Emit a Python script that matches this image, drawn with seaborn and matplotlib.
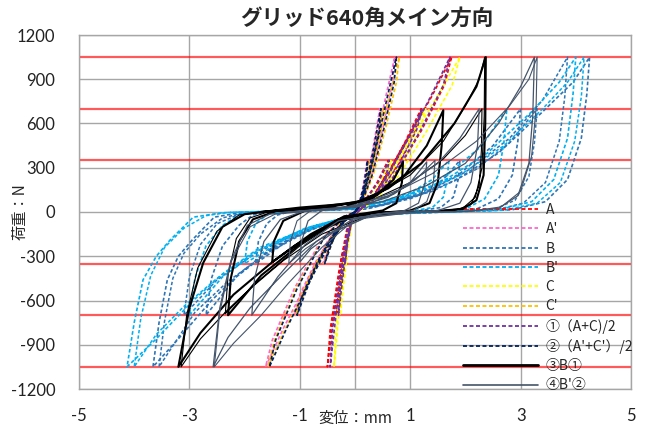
import matplotlib
matplotlib.use("Agg")
import matplotlib.pyplot as plt
import seaborn as sns
import pandas as pd
from matplotlib.lines import Line2D

# ---------------- data ----------------
series_names = ["A", "A'", "B", "B'", "C", "C'", "①（A+C)/2", "②（A'+C'）/2", "③B①", "④B'②"]

A_x = [0, 0.2, 0.4, 0.6, 0.55, 0.35, 0.1, 0, -0.08, -0.15, -0.2, -0.17, -0.1, -0.03, 0,
       0.3, 0.6, 0.9, 1.2, 1.1, 0.8, 0.4, 0.1, -0.05, -0.15, -0.25, -0.33, -0.3, -0.2, -0.08, 0,
       0.3, 0.6, 1.0, 1.4, 1.75, 1.62, 1.2, 0.7, 0.3, 0.05, -0.1, -0.25, -0.38, -0.5, -0.45, -0.3, -0.15, 0]
A_y = [0, 90, 200, 350, 250, 110, 20, 0, -70, -200, -350, -230, -90, -15, 0,
       80, 260, 470, 700, 560, 330, 130, 20, -40, -220, -470, -700, -540, -280, -70, 0,
       90, 270, 530, 790, 1050, 860, 550, 240, 70, 5, -60, -330, -680, -1050, -800, -420, -120, 0]

A2_x = [0, 0.08, 0.15, 0.22, 0.2, 0.12, 0.03, 0, -0.2, -0.4, -0.58, -0.5, -0.3, -0.1, 0,
        0.1, 0.2, 0.32, 0.45, 0.42, 0.3, 0.15, 0.03, -0.2, -0.5, -0.8, -1.1, -1.0, -0.7, -0.3, 0,
        0.1, 0.25, 0.4, 0.55, 0.72, 0.68, 0.5, 0.3, 0.12, 0, -0.2, -0.5, -0.9, -1.3, -1.62, -1.5, -1.1, -0.6, -0.2, 0]
A2_y = [0, 60, 180, 350, 240, 100, 15, 0, -60, -180, -350, -240, -110, -20, 0,
        50, 200, 420, 700, 560, 330, 120, 10, -50, -200, -420, -700, -560, -330, -90, 0,
        60, 250, 500, 770, 1050, 880, 560, 250, 60, 0, -50, -220, -500, -790, -1050, -870, -520, -180, -30, 0]

C_x = [0, 0.22, 0.45, 0.65, 0.6, 0.38, 0.12, 0, -0.06, -0.12, -0.16, -0.13, -0.08, -0.02, 0,
       0.32, 0.65, 0.95, 1.28, 1.18, 0.85, 0.45, 0.12, -0.04, -0.12, -0.2, -0.27, -0.24, -0.16, -0.06, 0,
       0.32, 0.65, 1.08, 1.5, 1.9, 1.76, 1.3, 0.78, 0.33, 0.06, -0.08, -0.19, -0.29, -0.38, -0.35, -0.24, -0.12, 0]
C_y = [0, 90, 200, 350, 250, 110, 20, 0, -70, -200, -350, -230, -90, -15, 0,
       80, 260, 470, 700, 560, 330, 130, 20, -40, -220, -470, -700, -540, -280, -70, 0,
       90, 270, 530, 790, 1050, 860, 550, 240, 70, 5, -60, -330, -680, -1050, -800, -420, -120, 0]

C2_x = [0, 0.09, 0.17, 0.25, 0.22, 0.13, 0.03, 0, -0.19, -0.38, -0.56, -0.48, -0.29, -0.1, 0,
        0.11, 0.22, 0.35, 0.5, 0.46, 0.33, 0.16, 0.03, -0.19, -0.48, -0.78, -1.07, -0.97, -0.68, -0.29, 0,
        0.11, 0.28, 0.44, 0.61, 0.8, 0.75, 0.55, 0.33, 0.13, 0, -0.19, -0.48, -0.87, -1.26, -1.58, -1.46, -1.07, -0.58, -0.19, 0]
C2_y = [0, 60, 180, 350, 240, 100, 15, 0, -60, -180, -350, -240, -110, -20, 0,
        50, 200, 420, 700, 560, 330, 120, 10, -50, -200, -420, -700, -560, -330, -90, 0,
        60, 250, 500, 770, 1050, 880, 560, 250, 60, 0, -50, -220, -500, -790, -1050, -870, -520, -180, -30, 0]

P1_x = [0, 0.21, 0.42, 0.62, 0.57, 0.36, 0.11, 0, -0.07, -0.14, -0.18, -0.15, -0.09, -0.03, 0,
        0.31, 0.62, 0.92, 1.22, 1.12, 0.81, 0.42, 0.11, -0.05, -0.14, -0.23, -0.3, -0.27, -0.18, -0.07, 0,
        0.31, 0.62, 1.02, 1.38, 1.72, 1.6, 1.18, 0.7, 0.3, 0.05, -0.09, -0.22, -0.34, -0.45, -0.41, -0.27, -0.14, 0]
P1_y = [0, 90, 200, 350, 250, 110, 20, 0, -70, -200, -350, -230, -90, -15, 0,
        80, 260, 470, 700, 560, 330, 130, 20, -40, -220, -470, -700, -540, -280, -70, 0,
        90, 270, 530, 790, 1050, 860, 550, 240, 70, 5, -60, -330, -680, -1050, -800, -420, -120, 0]

P2_x = [0, 0.08, 0.16, 0.23, 0.21, 0.12, 0.03, 0, -0.19, -0.39, -0.55, -0.47, -0.28, -0.09, 0,
        0.1, 0.21, 0.33, 0.47, 0.44, 0.31, 0.15, 0.03, -0.19, -0.48, -0.77, -1.05, -0.95, -0.67, -0.28, 0,
        0.1, 0.26, 0.42, 0.58, 0.75, 0.71, 0.52, 0.31, 0.12, 0, -0.19, -0.47, -0.86, -1.24, -1.55, -1.44, -1.05, -0.57, -0.19, 0]
P2_y = [0, 60, 180, 350, 240, 100, 15, 0, -60, -180, -350, -240, -110, -20, 0,
        50, 200, 420, 700, 560, 330, 120, 10, -50, -200, -420, -700, -560, -330, -90, 0,
        60, 250, 500, 770, 1050, 880, 560, 250, 60, 0, -50, -220, -500, -790, -1050, -870, -520, -180, -30, 0]

B_x = [-1.2, -0.3, 0.5, 1.2, 1.6, 1.9, 1.87, 1.78, 1.55, 1.1, 0.2, -0.6, -1.2, -1.8, -1.75, -1.6, -1.4, -1.2,
       -1.6, -0.6, 0.4, 1.2, 1.9, 2.5, 3.0, 2.95, 2.85, 2.6, 2.2, 1.4, 0.0, -0.8, -1.5, -2.15, -2.7, -2.6, -2.4, -2.1, -1.85, -1.6,
       -1.8, -0.8, 0.2, 1.0, 1.8, 2.6, 3.4, 3.95, 4.25, 4.2, 4.1, 3.85, 3.45, 2.85, 1.7, 0.0, -0.7, -1.5, -2.1, -2.6, -3.2, -3.66,
       -3.55, -3.4, -3.2, -2.95, -2.55, -2.1, -1.8]
B_y = [0, 15, 50, 130, 220, 350, 220, 100, 30, 5, -20, -90, -190, -350, -200, -80, -20, 0,
       0, 15, 40, 120, 260, 450, 700, 480, 250, 90, 20, 0, -20, -110, -250, -440, -700, -450, -230, -90, -20, 0,
       0, 10, 20, 90, 210, 400, 680, 880, 1050, 800, 500, 220, 70, 15, 0, -20, -100, -240, -420, -600, -860, -1050,
       -750, -460, -300, -190, -35, -5, 0]
# second specimen of B
Bb_x = [-1.7, -0.6, 0.5, 1.4, 2.2, 2.8, 3.3, 3.25, 3.15, 2.9, 2.5, 1.6, 0.0, -0.9, -1.8, -2.5, -3.1, -3.0, -2.8, -2.5, -2.1, -1.7,
        -1.7, -0.7, 0.3, 1.2, 2.0, 2.8, 3.4, 3.85, 3.8, 3.7, 3.45, 3.05, 2.5, 1.4, 0.0, -0.8, -1.6, -2.3, -2.9, -3.55,
        -3.45, -3.3, -3.1, -2.8, -2.4, -2.0, -1.7]
Bb_y = [0, 15, 45, 140, 290, 470, 700, 470, 240, 80, 15, 0, -20, -120, -280, -460, -700, -440, -220, -80, -15, 0,
        0, 10, 30, 120, 270, 500, 760, 1050, 780, 480, 200, 60, 10, 0, -25, -120, -280, -470, -680, -1050,
        -740, -450, -280, -150, -40, -5, 0]

B2_x = [-1.4, -0.5, 0.3, 1.0, 1.4, 1.7, 1.67, 1.6, 1.4, 1.0, 0.2, -0.6, -1.3, -2.0, -1.95, -1.8, -1.6, -1.4,
        -1.8, -0.8, 0.2, 1.0, 1.7, 2.3, 2.75, 2.7, 2.6, 2.35, 2.0, 1.2, 0.0, -0.9, -1.7, -2.4, -3.0, -2.9, -2.7, -2.4, -2.1, -1.8,
        -2.0, -1.0, 0.0, 0.8, 1.6, 2.4, 3.2, 3.7, 4.0, 3.95, 3.85, 3.6, 3.2, 2.6, 1.5, 0.0, -0.8, -1.72, -2.4, -2.93, -3.6, -4.13,
        -4.0, -3.84, -3.6, -3.35, -2.93, -2.4, -2.0]
B2_y = [0, 15, 50, 130, 220, 350, 220, 100, 30, 5, -20, -90, -190, -350, -200, -80, -20, 0,
        0, 15, 40, 120, 260, 450, 700, 480, 250, 90, 20, 0, -20, -110, -250, -440, -700, -450, -230, -90, -20, 0,
        0, 10, 20, 90, 210, 400, 680, 880, 1050, 800, 500, 220, 70, 15, 0, -20, -100, -240, -420, -600, -860, -1050,
        -750, -460, -300, -190, -35, -5, 0]
# second specimen of B'
B2b_x = [-2.1, -1.0, 0.0, 1.0, 1.9, 2.7, 3.4, 3.85, 4.15, 4.1, 3.98, 3.72, 3.3, 2.7, 1.6, 0.0, -0.9, -1.8, -2.5, -3.1,
         -3.6, -4.0, -3.88, -3.7, -3.45, -3.1, -2.7, -2.3, -2.1]
B2b_y = [0, 10, 25, 110, 250, 450, 700, 880, 1050, 780, 480, 200, 60, 12, 0, -25, -120, -270, -450, -640,
         -830, -1050, -720, -430, -240, -110, -25, -3, 0]

B3_x = [-0.9, -0.2, 0.4, 0.7, 0.87, 0.85, 0.75, 0.5, 0.0, -0.7, -1.1, -1.5, -1.47, -1.3, -0.9,
        -1.4, -0.5, 0.3, 0.9, 1.3, 1.6, 1.57, 1.5, 1.35, 1.0, 0.3, -0.3, -1.0, -1.7, -2.3, -2.25, -2.1, -1.85, -1.4,
        -1.7, -1.0, 0.0, 0.6, 1.2, 1.8, 2.2, 2.37, 2.36, 2.33, 2.2, 1.95, 1.4, 0.5, -0.2, -0.8, -1.5, -2.2, -2.8, -3.2,
        -3.0, -2.75, -2.4, -2.0, -1.7]
B3_y = [10, 30, 120, 220, 340, 200, 60, 10, -20, -140, -230, -340, -200, -60, 10,
        10, 30, 90, 250, 450, 690, 450, 200, 60, 10, -10, -50, -220, -430, -700, -450, -200, -50, 10,
        0, 30, 60, 160, 330, 600, 850, 1050, 600, 250, 80, 20, 5, -5, -30, -150, -340, -560, -820, -1050,
        -650, -345, -100, -15, 0]
# second specimen of ③
B3b_x = [-1.5, -0.6, 0.3, 1.0, 1.6, 2.0, 2.3, 2.29, 2.25, 2.1, 1.8, 1.0, 0.2, -0.6, -1.3, -1.9, -2.35, -2.3, -2.15, -1.9, -1.5,
         -1.6, -0.8, 0.2, 1.0, 1.6, 2.0, 2.25, 2.35, 2.34, 2.3, 2.18, 1.95, 1.5, 0.6, -0.3, -1.0, -1.7, -2.3, -2.8, -3.15,
         -3.05, -2.85, -2.5, -2.1, -1.6]
B3b_y = [10, 30, 80, 200, 360, 520, 700, 420, 180, 50, 10, 0, -30, -150, -330, -520, -690, -430, -180, -40, 10,
         0, 30, 80, 250, 480, 720, 900, 1050, 650, 300, 100, 25, 5, -10, -60, -230, -450, -660, -860, -1050,
         -700, -380, -130, -20, 0]

B4_x = [-0.6, 0.0, 0.6, 1.0, 1.3, 1.27, 1.15, 0.9, 0.3, -0.4, -0.8, -1.0, -0.97, -0.85, -0.6,
        -0.9, 0.0, 0.8, 1.5, 1.9, 2.25, 2.22, 2.1, 1.9, 1.5, 0.5, -0.3, -0.9, -1.4, -1.87, -1.82, -1.65, -1.35, -0.9,
        -1.2, -0.3, 0.5, 1.3, 2.0, 2.6, 3.0, 3.25, 3.22, 3.15, 2.95, 2.6, 2.0, 1.0, 0.0, -0.7, -1.3, -1.9, -2.3, -2.57,
        -2.45, -2.25, -1.95, -1.55, -1.2]
B4_y = [10, 30, 100, 200, 340, 200, 60, 10, -20, -140, -250, -340, -200, -60, 10,
        10, 40, 150, 330, 500, 700, 450, 200, 60, 10, -10, -60, -220, -440, -700, -450, -200, -50, 10,
        0, 25, 70, 180, 330, 600, 850, 1050, 650, 330, 110, 25, 5, -5, -40, -200, -420, -650, -850, -1050,
        -650, -330, -90, -15, 0]
# second specimen of ④
B4b_x = [-0.8, 0.1, 0.7, 1.1, 1.45, 1.42, 1.3, 1.05, 0.3, -0.5, -0.9, -1.2, -1.17, -1.05, -0.8,
         -1.0, -0.2, 0.6, 1.4, 2.2, 2.8, 3.15, 3.3, 3.28, 3.2, 3.0, 2.65, 2.1, 1.0, 0.0, -0.6, -1.2, -1.7, -2.2, -2.55,
         -2.45, -2.25, -1.9, -1.45, -1.0]
B4b_y = [10, 40, 120, 220, 350, 200, 70, 10, -20, -150, -250, -350, -200, -60, 10,
         0, 30, 110, 260, 480, 720, 900, 1050, 700, 380, 140, 35, 5, -5, -50, -240, -480, -700, -890, -1050,
         -680, -340, -100, -15, 0]

series_x = [A_x, A2_x, B_x, B2_x, C_x, C2_x, P1_x, P2_x, B3_x, B4_x]
series_y = [A_y, A2_y, B_y, B2_y, C_y, C2_y, P1_y, P2_y, B3_y, B4_y]
extra = {2: (Bb_x, Bb_y), 3: (B2b_x, B2b_y), 8: (B3b_x, B3b_y), 9: (B4b_x, B4b_y)}

ref_levels = [350, 700, 1050]
x_ticks = [-5, -3, -1, 1, 3, 5]
y_ticks = list(range(-1200, 1201, 300))

# ---------------- styles ----------------
colors = ["#ff0000", "#ff66cc", "#2e75b6", "#00b0f0", "#ffff00", "#ffc000",
          "#7030a0", "#002060", "#000000", "#44546a"]
dashed = [True] * 8 + [False, False]
widths = [1.2] * 8 + [1.5, 0.9]
extra_widths = {2: 1.1, 3: 1.1, 8: 0.8, 9: 0.8}

rows = []
for k, (name, xs, ys) in enumerate(zip(series_names, series_x, series_y)):
    for i, (xv, yv) in enumerate(zip(xs, ys)):
        rows.append({"series": name, "spec": 0, "i": i, "x": xv, "y": yv})
    if k in extra:
        ex, ey = extra[k]
        for i, (xv, yv) in enumerate(zip(ex, ey)):
            rows.append({"series": name, "spec": 1, "i": i, "x": xv, "y": yv})
df = pd.DataFrame(rows)

sns.set_theme(style="white")
plt.rcParams["font.family"] = ["Noto Sans CJK JP", "DejaVu Sans"]
plt.rcParams["axes.unicode_minus"] = False

fig = plt.figure(figsize=(6.47, 4.28), dpi=100)
ax = fig.add_axes([79 / 647, 1 - 389 / 428, 552 / 647, 354 / 428])

grid_c = "#a6a6a6"
for v in y_ticks:
    ax.axhline(v, color=grid_c, lw=1.0, zorder=0)
for v in x_ticks + [0]:
    ax.axvline(v, color=grid_c, lw=1.0, zorder=0)
for lv in ref_levels:
    ax.axhline(lv, color="#ff0000", alpha=0.65, lw=1.6, zorder=1)
    ax.axhline(-lv, color="#ff0000", alpha=0.65, lw=1.6, zorder=1)

dash_pat = (0, (2.2, 1.4))
for k, name in enumerate(series_names):
    for spec in (1, 0):
        sub = df[(df["series"] == name) & (df["spec"] == spec)]
        if sub.empty:
            continue
        lw = widths[k] if spec == 0 else extra_widths[k]
        sns.lineplot(data=sub, x="x", y="y", sort=False, estimator=None, ax=ax,
                     color=colors[k], linewidth=lw,
                     linestyle=dash_pat if dashed[k] else "-", zorder=2 + k)

ax.set_xlim(-5, 5)
ax.set_ylim(-1200, 1200)
ax.set_xticks(x_ticks)
ax.set_yticks(y_ticks)
ax.set_xlabel("")
ax.set_ylabel("")
ax.grid(False)
for s in ax.spines.values():
    s.set_color(grid_c)
    s.set_linewidth(1.0)
ax.tick_params(axis="both", length=0, labelsize=12, colors="#222222")
ax.tick_params(axis="y", pad=17)
ax.tick_params(axis="x", pad=14)
for lab in ax.get_xticklabels() + ax.get_yticklabels():
    lab.set_family(["Lato", "DejaVu Sans"])

handles = []
for k, name in enumerate(series_names):
    handles.append(Line2D([], [], color=colors[k],
                          lw=(2.0 if k == 8 else (1.2 if k == 9 else 1.3)),
                          linestyle=dash_pat if dashed[k] else "-"))
leg = ax.legend(handles, series_names, loc="upper left",
                bbox_to_anchor=(463 / 647, 1 - 203 / 428), bbox_transform=fig.transFigure,
                frameon=False, fontsize=10, handlelength=5.4, handletextpad=0.55,
                labelspacing=0.38, borderpad=0, borderaxespad=0)

fig.text(367 / 647, 1 - 18 / 428, "グリッド640角メイン方向", ha="center", va="center",
         fontsize=15.5, fontweight="bold")
fig.text(355 / 647, 1 - 418 / 428, "変位：mm", ha="center", va="center", fontsize=11)
fig.text(20 / 647, 1 - 212 / 428, "荷重：N", ha="center", va="center", fontsize=11,
         rotation=90)

fig.savefig("out.png", dpi=100)
